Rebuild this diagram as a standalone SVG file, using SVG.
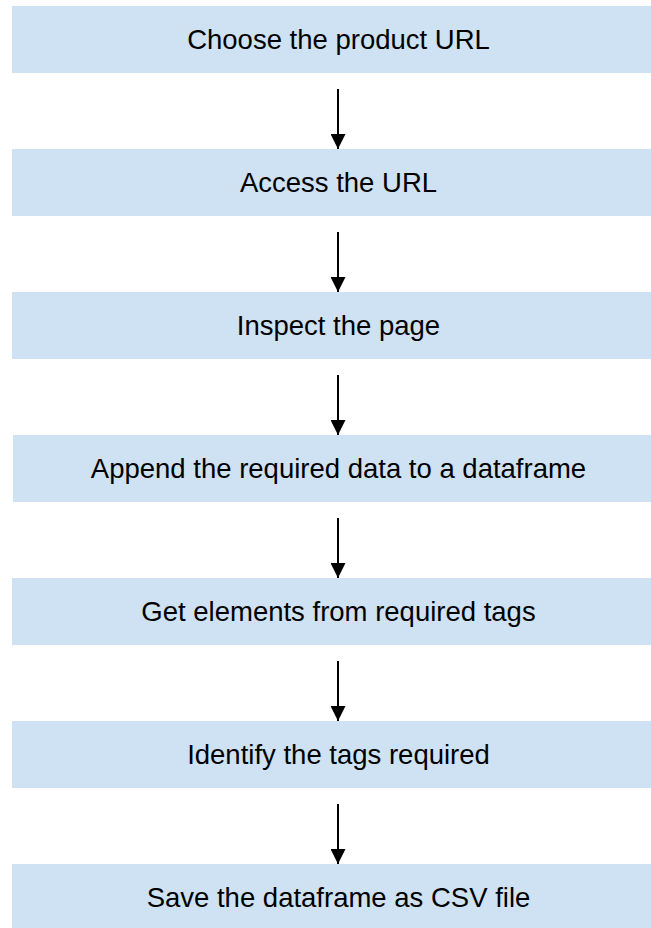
<svg xmlns="http://www.w3.org/2000/svg" width="651" height="928" viewBox="0 0 651 928">
  <style>
    .box { fill: #cfe2f3; }
    .label { font-family: "Liberation Sans", Arial, sans-serif; font-size: 27.5px; fill: #000; text-anchor: middle; }
    .conn { stroke: #000; stroke-width: 2; fill: none; }
  </style>
  <defs>
    <marker id="head" viewBox="0 0 15 15" refX="15" refY="7.5" markerWidth="15" markerHeight="15" markerUnits="userSpaceOnUse" orient="auto">
      <path d="M0,0 L15,7.5 L0,15 Z" fill="#000"/>
    </marker>
  </defs>
  <rect width="651" height="928" fill="#fff"/>

  <g id="step1"><rect class="box" x="12" y="6" width="652" height="67"/><text class="label" x="338.5" y="49">Choose the product URL</text></g>
  <g id="step2"><rect class="box" x="12" y="149" width="652" height="67"/><text class="label" x="338.5" y="192">Access the URL</text></g>
  <g id="step3"><rect class="box" x="12" y="292" width="652" height="67"/><text class="label" x="338.5" y="335">Inspect the page</text></g>
  <g id="step4"><rect class="box" x="13" y="435" width="651" height="67"/><text class="label" x="338.5" y="478">Append the required data to a dataframe</text></g>
  <g id="step5"><rect class="box" x="12" y="578" width="652" height="67"/><text class="label" x="338.5" y="621">Get elements from required tags</text></g>
  <g id="step6"><rect class="box" x="12" y="721" width="652" height="67"/><text class="label" x="338.5" y="764">Identify the tags required</text></g>
  <g id="step7"><rect class="box" x="12" y="864" width="652" height="67"/><text class="label" x="338.5" y="907">Save the dataframe as CSV file</text></g>

  <g id="connectors">
    <line class="conn" x1="338" y1="89" x2="338" y2="149" marker-end="url(#head)"/>
    <line class="conn" x1="338" y1="232" x2="338" y2="292" marker-end="url(#head)"/>
    <line class="conn" x1="338" y1="375" x2="338" y2="435" marker-end="url(#head)"/>
    <line class="conn" x1="338" y1="518" x2="338" y2="578" marker-end="url(#head)"/>
    <line class="conn" x1="338" y1="661" x2="338" y2="721" marker-end="url(#head)"/>
    <line class="conn" x1="338" y1="804" x2="338" y2="864" marker-end="url(#head)"/>
  </g>
</svg>
